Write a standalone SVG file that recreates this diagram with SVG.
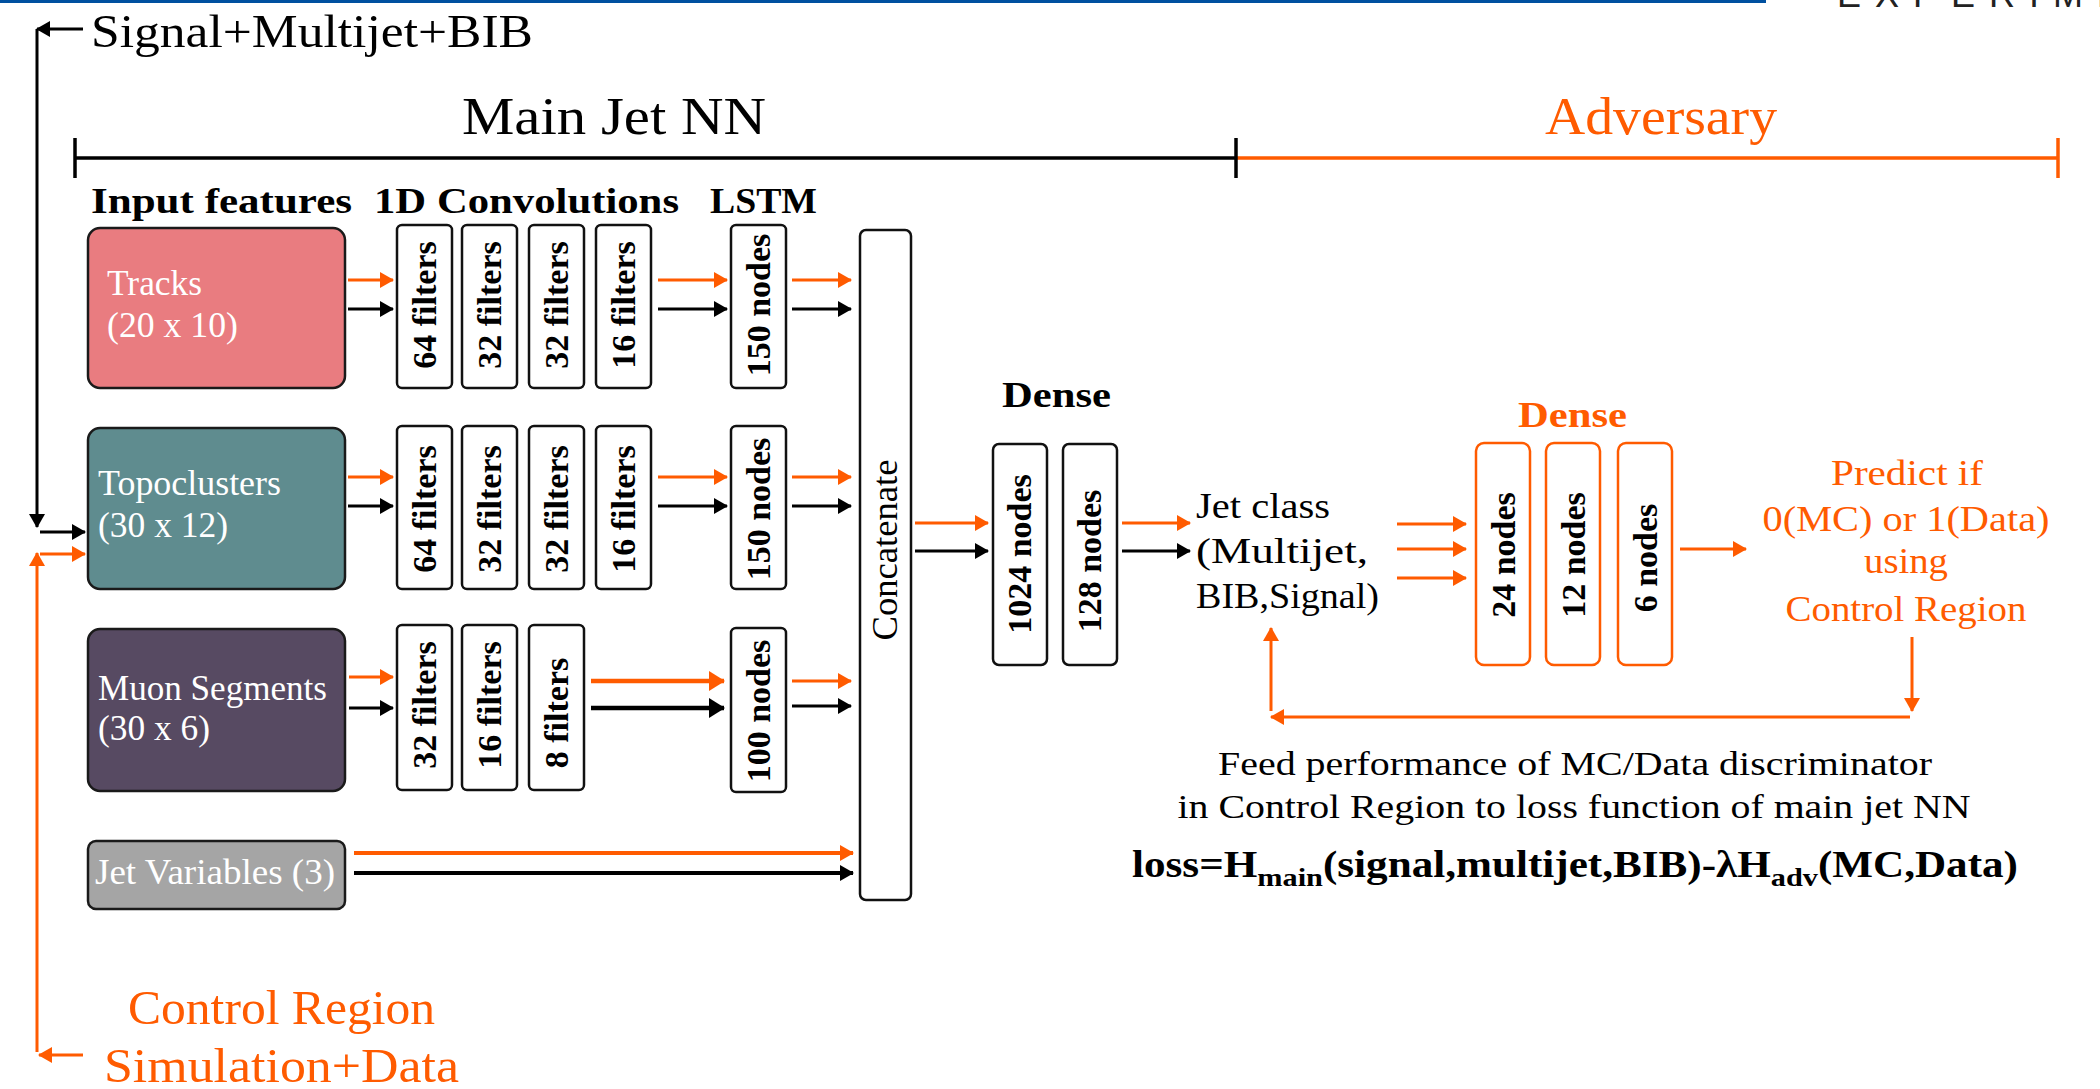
<svg xmlns="http://www.w3.org/2000/svg" width="2100" height="1089" viewBox="0 0 2100 1089">
<style>
text{font-family:"Liberation Serif","Times New Roman",serif}
.b{font-weight:bold}
.w{fill:#fff}
.o{fill:#FF5B00}
.k{fill:#000}
.lbl{font-size:34px;font-weight:bold;fill:#000}
.olbl{font-size:34px;font-weight:bold;fill:#000}
.box{fill:#fff;stroke:#111;stroke-width:2.5}
.obox{fill:#fff;stroke:#FF5B00;stroke-width:2.5}
.inp{stroke:#1a1a1a;stroke-width:2.5}
.ak{stroke:#000;stroke-width:3;fill:none;marker-end:url(#mk)}
.ao{stroke:#FF5B00;stroke-width:3;fill:none;marker-end:url(#mo)}
.akb{stroke:#000;stroke-width:4.5;fill:none;marker-end:url(#mkb)}
.aob{stroke:#FF5B00;stroke-width:4.5;fill:none;marker-end:url(#mob)}
</style>
<defs>
<marker id="mk" viewBox="0 0 14 16" refX="13" refY="8" markerWidth="14" markerHeight="16" markerUnits="userSpaceOnUse" orient="auto"><path d="M0,0 L14,8 L0,16 z" fill="#000"/></marker>
<marker id="mo" viewBox="0 0 14 16" refX="13" refY="8" markerWidth="14" markerHeight="16" markerUnits="userSpaceOnUse" orient="auto"><path d="M0,0 L14,8 L0,16 z" fill="#FF5B00"/></marker>
<marker id="mkb" viewBox="0 0 16 20" refX="15" refY="10" markerWidth="16" markerHeight="20" markerUnits="userSpaceOnUse" orient="auto"><path d="M0,0 L16,10 L0,20 z" fill="#000"/></marker>
<marker id="mob" viewBox="0 0 16 20" refX="15" refY="10" markerWidth="16" markerHeight="20" markerUnits="userSpaceOnUse" orient="auto"><path d="M0,0 L16,10 L0,20 z" fill="#FF5B00"/></marker>
</defs>
<rect x="0" y="0" width="2100" height="1089" fill="#fff"/>

<!-- slide header remnants -->
<rect x="0" y="0" width="1766" height="3" fill="#0050A0"/>
<text x="1837" y="7" style="font-family:'Liberation Sans',Arial,sans-serif;font-size:36px;letter-spacing:14px" fill="#222">EXPERIMENT</text>

<!-- section headings -->
<g id="headings">
<text x="91" y="47" style="font-size:46px" textLength="442" lengthAdjust="spacingAndGlyphs">Signal+Multijet+BIB</text>
<text x="462" y="134" style="font-size:52px" textLength="304" lengthAdjust="spacingAndGlyphs">Main Jet NN</text>
<text x="1545" y="134" class="o" style="font-size:52px" textLength="232" lengthAdjust="spacingAndGlyphs">Adversary</text>
<text x="91" y="213" class="b" style="font-size:36px" textLength="261" lengthAdjust="spacingAndGlyphs">Input features</text>
<text x="374" y="213" class="b" style="font-size:36px" textLength="305" lengthAdjust="spacingAndGlyphs">1D Convolutions</text>
<text x="710" y="213" class="b" style="font-size:36px" textLength="107" lengthAdjust="spacingAndGlyphs">LSTM</text>
<text x="1002" y="407" class="b" style="font-size:36px" textLength="109" lengthAdjust="spacingAndGlyphs">Dense</text>
<text x="1518" y="427" class="b o" style="font-size:36px" textLength="109" lengthAdjust="spacingAndGlyphs">Dense</text>
<text x="104" y="1082" class="o" style="font-size:48px" textLength="355" lengthAdjust="spacingAndGlyphs">Simulation+Data</text>
<text x="128" y="1024" class="o" style="font-size:48px" textLength="307" lengthAdjust="spacingAndGlyphs">Control Region</text>
</g>

<!-- brackets -->
<g id="brackets">
<line x1="75" y1="158" x2="1236" y2="158" stroke="#000" stroke-width="3.5"/>
<line x1="75" y1="138" x2="75" y2="178" stroke="#000" stroke-width="3.5"/>
<line x1="1236" y1="158" x2="2058" y2="158" stroke="#FF5B00" stroke-width="3.5"/>
<line x1="1236" y1="138" x2="1236" y2="178" stroke="#000" stroke-width="3.5"/>
<line x1="2058" y1="138" x2="2058" y2="178" stroke="#FF5B00" stroke-width="3.5"/>
</g>

<!-- input nodes -->
<g id="tracks">
<rect x="88" y="228" width="257" height="160" rx="12" fill="#E97C80" class="inp"/>
<text x="107" y="295" class="w" style="font-size:36px" textLength="95" lengthAdjust="spacingAndGlyphs">Tracks</text>
<text x="107" y="337" class="w" style="font-size:36px" textLength="131" lengthAdjust="spacingAndGlyphs">(20 x 10)</text>
</g>
<g id="topoclusters">
<rect x="88" y="428" width="257" height="161" rx="12" fill="#5F8C8F" class="inp"/>
<text x="98" y="495" class="w" style="font-size:36px" textLength="183" lengthAdjust="spacingAndGlyphs">Topoclusters</text>
<text x="98" y="537" class="w" style="font-size:36px" textLength="130" lengthAdjust="spacingAndGlyphs">(30 x 12)</text>
</g>
<g id="muon">
<rect x="88" y="629" width="257" height="162" rx="12" fill="#574A62" class="inp"/>
<text x="98" y="700" class="w" style="font-size:36px" textLength="229" lengthAdjust="spacingAndGlyphs">Muon Segments</text>
<text x="98" y="740" class="w" style="font-size:36px" textLength="112" lengthAdjust="spacingAndGlyphs">(30 x 6)</text>
</g>
<g id="jetvars">
<rect x="88" y="841" width="257" height="68" rx="8" fill="#A5A5A5" class="inp"/>
<text x="95" y="884" class="w" style="font-size:36px" textLength="240" lengthAdjust="spacingAndGlyphs">Jet Variables (3)</text>
</g>

<!-- conv / lstm: tracks row -->
<g id="tracks-conv1"><rect x="397" y="225" width="55" height="163" rx="5" class="box"/><text transform="translate(436,305) rotate(-90)" text-anchor="middle" class="lbl">64 filters</text></g>
<g id="tracks-conv2"><rect x="462" y="225" width="55" height="163" rx="5" class="box"/><text transform="translate(501,305) rotate(-90)" text-anchor="middle" class="lbl">32 filters</text></g>
<g id="tracks-conv3"><rect x="529" y="225" width="55" height="163" rx="5" class="box"/><text transform="translate(568,305) rotate(-90)" text-anchor="middle" class="lbl">32 filters</text></g>
<g id="tracks-conv4"><rect x="596" y="225" width="55" height="163" rx="5" class="box"/><text transform="translate(635,305) rotate(-90)" text-anchor="middle" class="lbl">16 filters</text></g>
<g id="tracks-lstm"><rect x="731" y="225" width="55" height="163" rx="5" class="box"/><text transform="translate(770,305) rotate(-90)" text-anchor="middle" class="lbl">150 nodes</text></g>

<!-- topoclusters row -->
<g id="topo-conv1"><rect x="397" y="426" width="55" height="163" rx="5" class="box"/><text transform="translate(436,509) rotate(-90)" text-anchor="middle" class="lbl">64 filters</text></g>
<g id="topo-conv2"><rect x="462" y="426" width="55" height="163" rx="5" class="box"/><text transform="translate(501,509) rotate(-90)" text-anchor="middle" class="lbl">32 filters</text></g>
<g id="topo-conv3"><rect x="529" y="426" width="55" height="163" rx="5" class="box"/><text transform="translate(568,509) rotate(-90)" text-anchor="middle" class="lbl">32 filters</text></g>
<g id="topo-conv4"><rect x="596" y="426" width="55" height="163" rx="5" class="box"/><text transform="translate(635,509) rotate(-90)" text-anchor="middle" class="lbl">16 filters</text></g>
<g id="topo-lstm"><rect x="731" y="426" width="55" height="163" rx="5" class="box"/><text transform="translate(770,509) rotate(-90)" text-anchor="middle" class="lbl">150 nodes</text></g>

<!-- muon row -->
<g id="muon-conv1"><rect x="397" y="625" width="55" height="165" rx="5" class="box"/><text transform="translate(436,705) rotate(-90)" text-anchor="middle" class="lbl">32 filters</text></g>
<g id="muon-conv2"><rect x="462" y="625" width="55" height="165" rx="5" class="box"/><text transform="translate(501,705) rotate(-90)" text-anchor="middle" class="lbl">16 filters</text></g>
<g id="muon-conv3"><rect x="529" y="625" width="55" height="165" rx="5" class="box"/><text transform="translate(568,713) rotate(-90)" text-anchor="middle" class="lbl">8 filters</text></g>
<g id="muon-lstm"><rect x="731" y="628" width="55" height="164" rx="5" class="box"/><text transform="translate(770,711) rotate(-90)" text-anchor="middle" class="lbl">100 nodes</text></g>

<!-- concatenate -->
<g id="concatenate"><rect x="860" y="230" width="51" height="670" rx="6" class="box"/><text transform="translate(897,550) rotate(-90)" text-anchor="middle" style="font-size:36px" textLength="181" lengthAdjust="spacingAndGlyphs">Concatenate</text></g>

<!-- dense main -->
<g id="dense-1024"><rect x="993" y="444" width="54" height="221" rx="6" class="box"/><text transform="translate(1031,554) rotate(-90)" text-anchor="middle" class="lbl">1024 nodes</text></g>
<g id="dense-128"><rect x="1063" y="444" width="54" height="221" rx="6" class="box"/><text transform="translate(1101,561) rotate(-90)" text-anchor="middle" class="lbl">128 nodes</text></g>

<!-- jet class -->
<g id="jetclass">
<text x="1196" y="518" style="font-size:36px" textLength="134" lengthAdjust="spacingAndGlyphs">Jet class</text>
<text x="1196" y="563" style="font-size:36px" textLength="172" lengthAdjust="spacingAndGlyphs">(Multijet,</text>
<text x="1196" y="608" style="font-size:36px" textLength="183" lengthAdjust="spacingAndGlyphs">BIB,Signal)</text>
</g>

<!-- adversary dense -->
<g id="adv-24"><rect x="1476" y="443" width="54" height="222" rx="8" class="obox"/><text transform="translate(1515,555) rotate(-90)" text-anchor="middle" class="olbl">24 nodes</text></g>
<g id="adv-12"><rect x="1546" y="443" width="54" height="222" rx="8" class="obox"/><text transform="translate(1585,555) rotate(-90)" text-anchor="middle" class="olbl">12 nodes</text></g>
<g id="adv-6"><rect x="1618" y="443" width="54" height="222" rx="8" class="obox"/><text transform="translate(1657,558) rotate(-90)" text-anchor="middle" class="olbl">6 nodes</text></g>

<!-- predict -->
<g id="predict">
<text x="1907" y="485" text-anchor="middle" class="o" style="font-size:36px" textLength="152" lengthAdjust="spacingAndGlyphs">Predict if</text>
<text x="1906" y="531" text-anchor="middle" class="o" style="font-size:36px" textLength="287" lengthAdjust="spacingAndGlyphs">0(MC) or 1(Data)</text>
<text x="1906" y="573" text-anchor="middle" class="o" style="font-size:36px" textLength="84" lengthAdjust="spacingAndGlyphs">using</text>
<text x="1906" y="621" text-anchor="middle" class="o" style="font-size:36px" textLength="241" lengthAdjust="spacingAndGlyphs">Control Region</text>
</g>

<!-- feed text -->
<g id="feedback-text">
<text x="1575" y="775" text-anchor="middle" style="font-size:34px" textLength="714" lengthAdjust="spacingAndGlyphs">Feed performance of MC/Data discriminator</text>
<text x="1574" y="818" text-anchor="middle" style="font-size:34px" textLength="793" lengthAdjust="spacingAndGlyphs">in Control Region to loss function of main jet NN</text>
<text x="1132" y="877" class="b" style="font-size:37px" textLength="886" lengthAdjust="spacingAndGlyphs">loss=H<tspan dy="9" style="font-size:26px">main</tspan><tspan dy="-9">(signal,multijet,BIB)-λH</tspan><tspan dy="9" style="font-size:26px">adv</tspan><tspan dy="-9">(MC,Data)</tspan></text>
</g>

<!-- connectors -->
<g id="connectors">
<line x1="83" y1="29" x2="37" y2="29" class="ak"/>
<line x1="37" y1="29" x2="37" y2="527" class="ak"/>
<line x1="40" y1="532" x2="85" y2="532" class="ak"/>
<line x1="83" y1="1055" x2="39" y2="1055" class="ao"/>
<line x1="37" y1="1052" x2="37" y2="553" class="ao"/>
<line x1="40" y1="554" x2="85" y2="554" class="ao"/>

<line x1="348" y1="280" x2="393" y2="280" class="ao"/>
<line x1="348" y1="309" x2="393" y2="309" class="ak"/>
<line x1="658" y1="280" x2="727" y2="280" class="ao"/>
<line x1="658" y1="309" x2="727" y2="309" class="ak"/>
<line x1="792" y1="280" x2="851" y2="280" class="ao"/>
<line x1="792" y1="309" x2="851" y2="309" class="ak"/>

<line x1="348" y1="477" x2="393" y2="477" class="ao"/>
<line x1="348" y1="506" x2="393" y2="506" class="ak"/>
<line x1="658" y1="477" x2="727" y2="477" class="ao"/>
<line x1="658" y1="506" x2="727" y2="506" class="ak"/>
<line x1="792" y1="477" x2="851" y2="477" class="ao"/>
<line x1="792" y1="506" x2="851" y2="506" class="ak"/>

<line x1="349" y1="677" x2="393" y2="677" class="ao"/>
<line x1="349" y1="708" x2="393" y2="708" class="ak"/>
<line x1="591" y1="681" x2="724" y2="681" class="aob"/>
<line x1="591" y1="708" x2="724" y2="708" class="akb"/>
<line x1="792" y1="681" x2="851" y2="681" class="ao"/>
<line x1="792" y1="706" x2="851" y2="706" class="ak"/>

<line x1="354" y1="853" x2="853" y2="853" class="ao" style="stroke-width:4"/>
<line x1="354" y1="873" x2="853" y2="873" class="ak" style="stroke-width:4"/>

<line x1="915" y1="523" x2="988" y2="523" class="ao"/>
<line x1="915" y1="551" x2="988" y2="551" class="ak"/>
<line x1="1122" y1="523" x2="1190" y2="523" class="ao"/>
<line x1="1122" y1="551" x2="1190" y2="551" class="ak"/>

<line x1="1397" y1="524" x2="1466" y2="524" class="ao"/>
<line x1="1397" y1="549" x2="1466" y2="549" class="ao"/>
<line x1="1397" y1="578" x2="1466" y2="578" class="ao"/>
<line x1="1680" y1="549" x2="1746" y2="549" class="ao"/>

<line x1="1912" y1="637" x2="1912" y2="711" class="ao"/>
<line x1="1910" y1="717" x2="1271" y2="717" class="ao"/>
<line x1="1271" y1="711" x2="1271" y2="628" class="ao"/>
</g>
</svg>
